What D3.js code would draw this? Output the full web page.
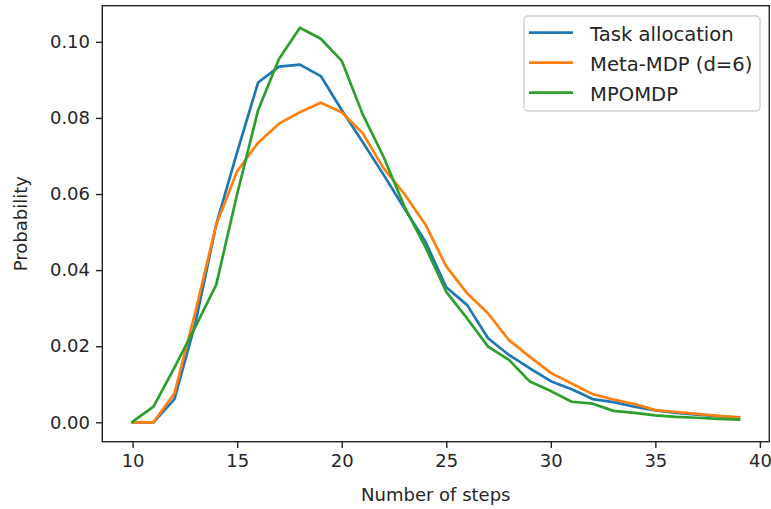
<!DOCTYPE html>
<html>
<head>
<meta charset="utf-8">
<script src="https://cdn.jsdelivr.net/npm/d3@7"></script>
<style>
  body { margin: 0; background: #fff; }
  text { font-family: "DejaVu Sans", sans-serif; fill: #262626; }
</style>
</head>
<body>
<div id="chart"></div>
<script>
// steps 10..39
const steps = d3.range(10, 40);

const taskAllocation = [0, 0, 0.0061, 0.026, 0.052, 0.071, 0.0893, 0.0935, 0.0940, 0.0910,
  0.0821, 0.0737, 0.0651, 0.0562, 0.0475, 0.0355, 0.0308, 0.0221, 0.0177, 0.0142,
  0.0108, 0.0087, 0.0061, 0.0053, 0.0041, 0.0031, 0.0025, 0.0020, 0.0016, 0.0012];

const metaMDP = [0, 0, 0.0076, 0.029, 0.052, 0.066, 0.0735, 0.0785, 0.0815, 0.0840,
  0.0815, 0.0760, 0.0668, 0.0600, 0.0520, 0.0410, 0.0339, 0.0286, 0.0216, 0.0172,
  0.0130, 0.0102, 0.0074, 0.0060, 0.0048, 0.0032, 0.0027, 0.0022, 0.0017, 0.0013];

const mpomdp = [0.0002, 0.0041, 0.0144, 0.0251, 0.0362, 0.0600, 0.0820, 0.0955, 0.1037, 0.1008,
  0.0950, 0.0810, 0.0698, 0.0567, 0.0461, 0.0343, 0.0273, 0.0199, 0.0164, 0.0107,
  0.0082, 0.0054, 0.0049, 0.0030, 0.0025, 0.0018, 0.0014, 0.0012, 0.0009, 0.0007];

const seriesNames = ["Task allocation", "Meta-MDP (d=6)", "MPOMDP"];
const seriesColors = ["#1f77b4", "#ff7f0e", "#2ca02c"];
const xTicks = [10, 15, 20, 25, 30, 35, 40];
const yTicks = [0, 0.02, 0.04, 0.06, 0.08, 0.10];

const width = 771;
const height = 509;
const margin = { top: 5.7, right: 1.7, bottom: 67.3, left: 102.3 };

const svg = d3.select("#chart")
  .append("svg")
  .attr("width", width)
  .attr("height", height);

const x = d3.scaleLinear()
  .domain([8.55, 40.45])
  .range([margin.left, width - margin.right]);

const y = d3.scaleLinear()
  .domain([-0.0051, 0.1095])
  .range([height - margin.bottom, margin.top]);

const line = d3.line()
  .x((d, i) => x(steps[i]))
  .y(d => y(d));

const data = [taskAllocation, metaMDP, mpomdp];

svg.append("g")
  .selectAll("path")
  .data(data)
  .join("path")
  .attr("fill", "none")
  .attr("stroke", (d, i) => seriesColors[i])
  .attr("stroke-width", 2.7)
  .attr("stroke-linejoin", "round")
  .attr("stroke-linecap", "square")
  .attr("d", line);

// axes
const xAxis = g => {
  g.attr("transform", `translate(0,${height - margin.bottom})`)
    .call(d3.axisBottom(x).tickValues(xTicks).tickSize(6.3).tickPadding(6).tickFormat(d3.format("d")))
    .attr("font-size", "18px");
  g.select(".domain").remove();
};

const yAxis = g => {
  g.attr("transform", `translate(${margin.left},0)`)
    .call(d3.axisLeft(y).tickValues(yTicks).tickSize(6.3).tickPadding(6).tickFormat(d3.format(".2f")))
    .attr("font-size", "18px");
  g.select(".domain").remove();
};

svg.append("g").call(xAxis);
svg.append("g").call(yAxis);

svg.selectAll(".tick line").attr("stroke", "#222").attr("stroke-width", 1.4);
svg.selectAll(".tick text").attr("fill", "#262626").attr("font-family", "DejaVu Sans, sans-serif");

// frame
svg.append("rect")
  .attr("x", margin.left)
  .attr("y", margin.top)
  .attr("width", width - margin.left - margin.right)
  .attr("height", height - margin.top - margin.bottom)
  .attr("fill", "none")
  .attr("stroke", "#222")
  .attr("stroke-width", 1.4);

// labels
svg.append("text")
  .attr("x", (margin.left + width - margin.right) / 2)
  .attr("y", 501)
  .attr("text-anchor", "middle")
  .attr("font-size", "18px")
  .text("Number of steps");

svg.append("text")
  .attr("transform", `translate(27,${(margin.top + height - margin.bottom) / 2}) rotate(-90)`)
  .attr("text-anchor", "middle")
  .attr("font-size", "18px")
  .text("Probability");

// legend
const legend = svg.append("g");
legend.append("rect")
  .attr("x", 524)
  .attr("y", 16)
  .attr("width", 236)
  .attr("height", 95)
  .attr("rx", 4)
  .attr("fill", "#fff")
  .attr("fill-opacity", 0.8)
  .attr("stroke", "#d0d0d0")
  .attr("stroke-width", 1.4);

const items = legend.selectAll("g.item")
  .data(seriesNames)
  .join("g")
  .attr("class", "item")
  .attr("transform", (d, i) => `translate(0,${32.7 + i * 30})`);

items.append("line")
  .attr("x1", 529)
  .attr("x2", 573)
  .attr("stroke", (d, i) => seriesColors[i])
  .attr("stroke-width", 2.7);

items.append("text")
  .attr("x", 590)
  .attr("dy", "0.42em")
  .attr("font-size", "19.6px")
  .text(d => d);
</script>
</body>
</html>
